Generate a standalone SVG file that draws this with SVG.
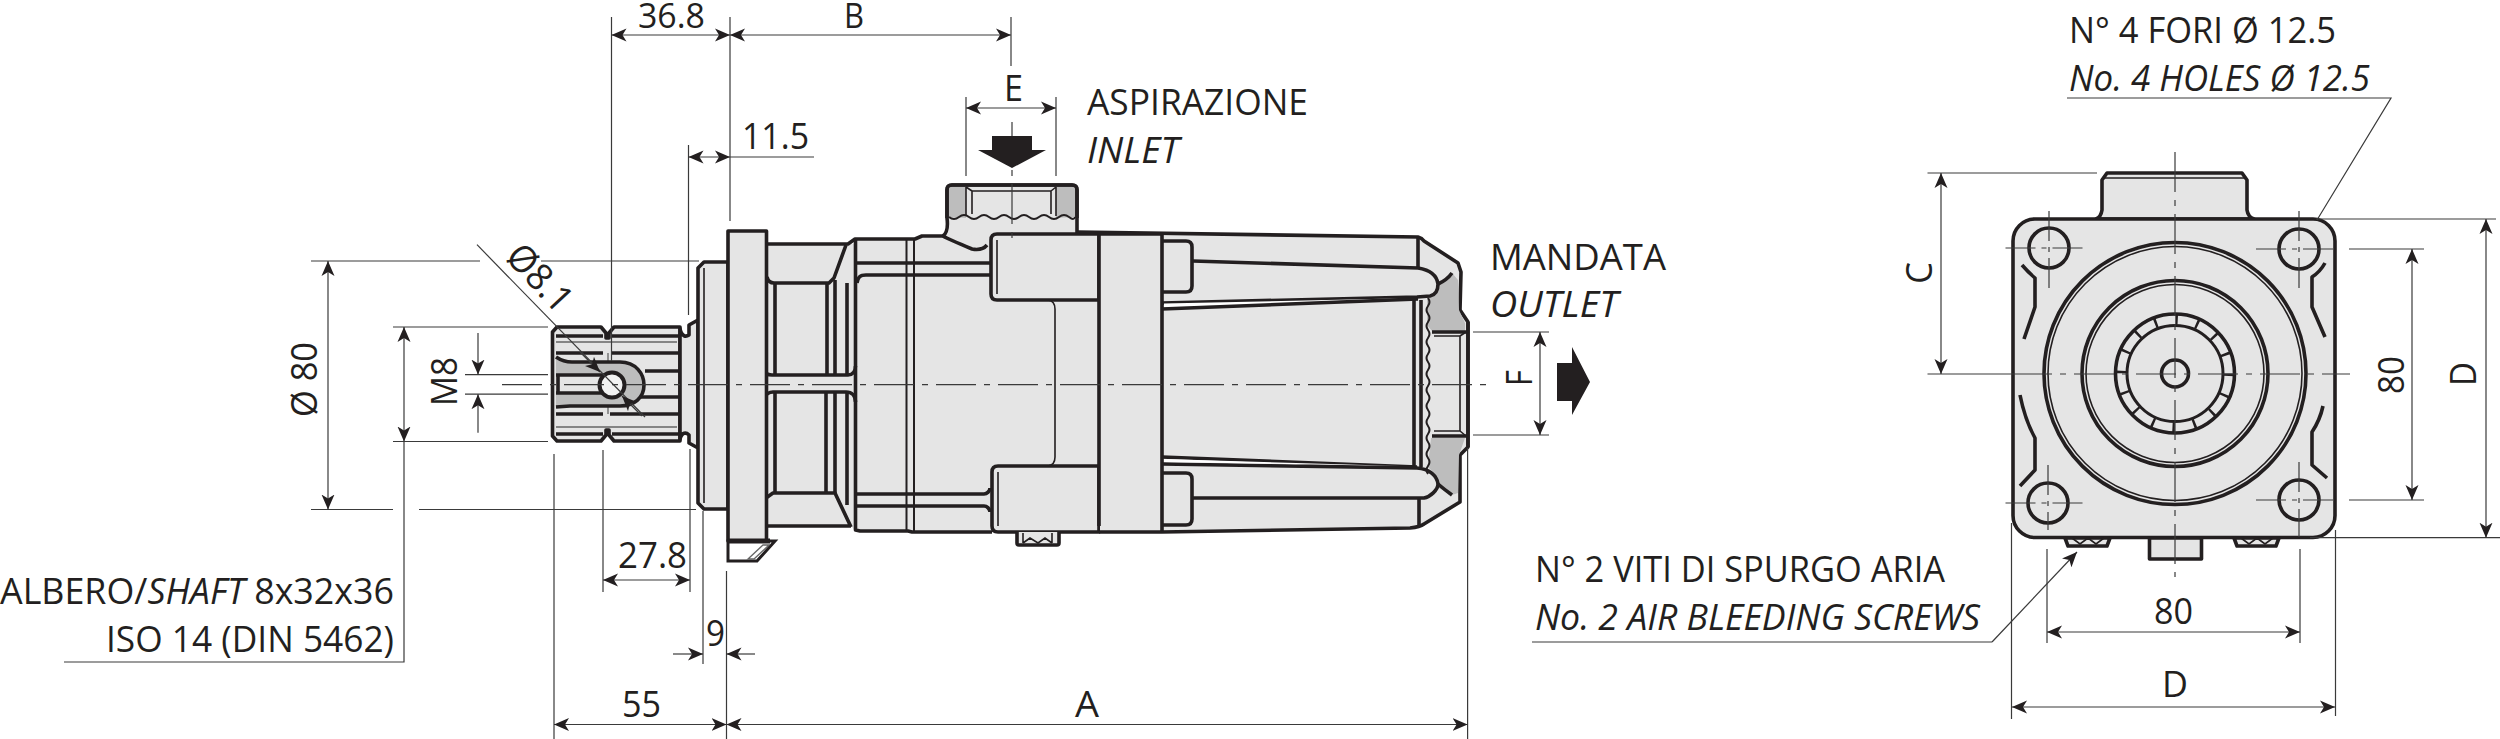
<svg xmlns="http://www.w3.org/2000/svg" width="2500" height="739" viewBox="0 0 2500 739">
<style>
text{font-family:"Open Sans","Noto Sans","Liberation Sans",sans-serif;font-size:37px;fill:#231f20}
.i{font-style:italic}
.top{font-size:34px}
.o{fill:#e5e5e5;stroke:#231f20;stroke-width:3.600;stroke-linejoin:round}
.f{fill:#e5e5e5;stroke:none}
.g{fill:#bdbdbd;stroke:none}
.h{fill:none;stroke:#231f20;stroke-width:3.600;stroke-linejoin:round}
.t{fill:none;stroke:#231f20;stroke-width:1.600}
.s{fill:none;stroke:#666;stroke-width:1.300}
.d{fill:none;stroke:#3a3a3a;stroke-width:1.200}
.b{marker-start:url(#ar);marker-end:url(#ar)}
.e{marker-end:url(#ar)}
.c{fill:none;stroke:#3a3a3a;stroke-width:1.200;stroke-dasharray:40 8 6 8}
</style>
<defs>
<marker id="ar" markerUnits="userSpaceOnUse" markerWidth="18" markerHeight="14" refX="15" refY="7" orient="auto-start-reverse"><path d="M15,7 L0,0.5 L4,7 L0,13.500 Z" fill="#231f20"/></marker>
</defs>
<rect width="2500" height="739" fill="#fff"/>

<g id="side-view">
<g id="shaft">
<path class="o" d="M557,327 H601 L606,333 V338 H609 V333 L614,327 H680 V441 H614 L609,435 V430 H606 V435 L601,441 H557 L552.500,436 V332 Z"/>
<path class="h" d="M556,336 H603 M612,336 H680 M556,353 H603 M612,353 H680 M645,371 H680 M641,397 H680 M556,414 H603 M610,414 H680 M556,434 H603 M612,434 H680"/>
<path class="s" d="M556,342 H677 M556,427 H677 M608,353 V362 M608,406 V414"/>
<path class="g" d="M556,357 C562,361 566,362 572,362 H620 C636,362 644,374 644,385 C644,398 634,406 620,406 H570 L556,407 Z"/>
<path class="h" d="M556,357 C562,361 566,362 572,362 H620 C636,362 644,374 644,385 C644,398 634,406 620,406 H570 L556,407"/>
<rect class="f" x="556" y="376" width="48" height="17"/>
<path class="h" d="M556,375 H604 M556,393 H604 M558,376 V392"/>
<circle cx="612" cy="385" r="12.500" fill="#f2f2f2" stroke="#231f20" stroke-width="4"/>
</g>
<g id="neck-pilot">
<path class="o" d="M680,329 C682,337 686,337 689,335 V325 L698,320 V448 L689,443 V435 C686,432 682,432 680,439 Z"/>
<path class="o" d="M728,262 H704 L698,268 V503 L704,509 H728 Z"/>
<path class="t" d="M704,268 V503"/>
</g>
<g id="body">
<path class="f" d="M766,244 H855 V239 H915 L922,236 H947 V233 L1077,232 L1418,237 L1458,263 L1461,272 L1460,310 L1468,322 V447 L1460,455 V502 L1420,525 L1410,528 L1162,532 H992 L910,531 H855 L851,526 H766 Z"/>
<path class="h" d="M767,244 H848 L855,239 H915 L922,236 H943"/>
<path class="h" d="M767,277 C768,281 770,283 774,283 H829 L834,278 L846,245"/>
<path class="h" d="M775,283 V375 M827,283 V375 M835,280 V375 M847,283 V375 M775,392 V493 M826,392 V493 M835,392 V493 M847,392 V505"/>
<path class="h" d="M763,369 C764,373 767,375 772,375 H848 C852,375 855.500,372 855.500,366"/>
<path class="h" d="M764,398 C766,394 769,392 773,392 H846 C852,392 855.500,396 855.500,402"/>
<path class="h" d="M766,498 L773,493 H835 L851,527 M766,526 H851"/>
<path class="h" d="M855.500,239 V530 L860,531 H908 L912,532 H992"/>
<path class="h" style="stroke-width:2" d="M906.500,239 V531 M914,239 V531"/>
<path class="h" d="M857,263 H990 M857,283 C858,277 860,275 866,275 H990 M855,494 H984 C987,494 990,491 990,488 M855,506 H984 C987,506 990,509 990,512"/>
</g>
<g id="inlet-boss">
<path class="o" d="M943,236 C947,233 948,226 947,218 V190 Q947,185 952,185 H1072 Q1077,185 1077,190 V233"/>
<path class="g" d="M949,187 H966 V218 L949,217 Z M1056,187 H1075 V217 L1056,218 Z"/>
<path class="h" d="M947,218 V190 Q947,185 952,185 H1072 Q1077,185 1077,190 V218"/>
<path class="t" style="stroke-width:2" d="M949,217 q5,4 10,0 t10,0 t10,0 t10,0 t10,0 t10,0 t10,0 t10,0 t10,0 t10,0 t10,0 t10,0 t6,0"/>
<path class="t" d="M966,187 V216 M1056,187 V216 M972,191 V214 M1051,191 V214 M972,191 H1051 M966,187 L972,191 M1056,187 L1051,191"/>
<path class="h" d="M943,236 C948,239 960,244 972,249 Q982,251 987,245"/>
</g>
<g id="blocks">
<path class="o" d="M997,234 H1099 V300 H997 Q991,300 991,294 V240 Q991,234 997,234 Z"/>
<path class="o" d="M998,466 H1099 V532 H998 Q992,532 992,526 V472 Q992,466 998,466 Z"/>
<path class="f" d="M1100,234 H1161 V531 H1100 Z"/>
<path class="h" d="M1099,234 V526 M1162,234 V532 M1099,234 H1162 M1099,532 H1162"/>
<path class="t" d="M997,240 V294 M998,472 V526"/>
<path class="t" d="M1048,300 Q1055,301 1055,309 V457 Q1055,465 1048,466"/>
<path class="h" d="M1162,241 H1186 Q1192,241 1192,247 V286 Q1192,292 1186,292 H1162 M1162,473 H1186 Q1192,473 1192,479 V519 Q1192,525 1186,525 H1162"/>
</g>
<g id="cowl">
<path class="h" d="M1077,232 L1418,237 Q1422,238 1424,241 L1458,263 L1461,272 L1460,310 L1468,322 V447 L1460,455 V502 L1424,524 Q1420,527 1410,528 L1162,532"/>
<path class="h" d="M1418,238 V268 M1419,498 V527"/>
<path class="g" d="M1438,283 Q1447,280 1452,273 L1458,280 L1459,310 L1465,323 V331 H1432 L1427,325 V298 L1433,296 Q1439,292 1438,283 Z"/>
<path class="g" d="M1428,467 L1431,438 H1465 L1459,455 L1458,493 L1452,495 L1437,487 L1438,477 Z"/>
<path class="h" d="M1414,300 V467 M1421,300 V467"/>
<path class="t" style="stroke-width:2" d="M1428,298 q3,4 0,8 t0,8 t0,8 t0,8 t0,8 t0,8 t0,8 t0,8 t0,8 t0,8 t0,8 t0,8 t0,8 t0,8 t0,8 t0,8 t0,8 t0,8 t0,8 t0,8 t0,8 t0,8"/>
<rect class="f" x="1433" y="333" width="33" height="102"/>
<path class="h" d="M1432,332 H1467 M1432,436 H1467 M1468,322 V447"/>
<path class="t" d="M1434,336 H1460 M1434,431 H1460 M1460,336 V431 M1460,336 L1466,332 M1460,431 L1466,436"/>
<path class="h" d="M1193,261 L1418,268 C1430,270 1437,276 1438,284 C1438,291 1435,295 1430,296 L1417,297 L1162,303"/>
<path fill="#fff" d="M1164,303.500 L1417,298 L1164,307.500 Z"/>
<path class="h" d="M1162,309 L1418,299"/>
<path class="h" d="M1162,457 L1417,467 M1162,464 L1417,468 C1430,469 1437,476 1438,484 C1438,490 1430,497 1424,498 H1193"/>
<path fill="#fff" d="M1164,459 L1400,466 L1164,462 Z"/>
<path class="h" d="M1438,284 Q1447,280 1452,273 M1438,484 Q1445,490 1452,495"/>
</g>
<g id="flange">
<rect class="o" x="728" y="231" width="38.500" height="310"/>
<path fill="#fff" stroke="#231f20" stroke-width="3" d="M728,541 H775 L757,561 H728 Z"/>
<path class="h" style="stroke-width:5" d="M728,541 H770"/>
<path class="s" fill="#e5e5e5" d="M748,559 L763,545 H769 L754,559 Z"/>
</g>
<g id="bleed-screw">
<path class="o" d="M1017,532 V543 Q1017,545 1019,545 H1057 Q1059,545 1059,543 V532"/>
<path class="t" d="M1023,533 V543 M1052,533 V543 M1023,543 L1030,538 L1038,543 L1045,538 L1052,543"/>
</g>
</g>

<g id="rear-view">
<path class="o" d="M2096,219 Q2101,217 2102,210 V180 L2107,173 H2242 L2247,180 V210 Q2248,217 2254,219 Z"/>
<path class="t" d="M2103,178 H2246"/>
<rect class="o" x="2013" y="219" width="322" height="318.500" rx="22" ry="22"/>
<g id="bleed-rear">
<path class="o" d="M2065,538 L2068,546 H2107 L2110,538 Z M2234,538 L2237,546 H2276 L2279,538 Z"/>
<path class="t" d="M2072,538 L2080,544 L2088,538 L2096,544 L2104,538 M2241,538 L2249,544 L2257,538 L2265,544 L2273,538"/>
<rect class="o" x="2149.500" y="538" width="52" height="21"/>
</g>
<path class="h" d="M2022,265 Q2028,272 2035,278 V307 L2024,339 M2020,395 Q2025,420 2035,438 V470 L2020,486 M2325,263 Q2320,272 2312,277 V307 L2325,337 M2323,406 Q2320,420 2312,432 V465 L2327,478"/>
<circle class="o" cx="2175" cy="373.500" r="131"/>
<circle class="t" cx="2175" cy="373.500" r="127"/>
<circle class="o" cx="2175" cy="373.500" r="93"/>
<circle class="t" cx="2175" cy="373.500" r="89"/>
<circle class="o" cx="2175" cy="373.500" r="59.500"/>
<circle cx="2175" cy="373.500" r="54" fill="none" stroke="#231f20" stroke-width="10" stroke-dasharray="2.500 18.700"/>
<circle class="h" style="stroke-width:3" cx="2175" cy="373.500" r="48"/>
<circle class="o" cx="2175" cy="373.500" r="13.500"/>
<circle class="o" cx="2049" cy="248" r="20"/>
<circle class="o" cx="2299" cy="249" r="20"/>
<circle class="o" cx="2048" cy="503" r="20"/>
<circle class="o" cx="2299" cy="500" r="20"/>
</g>

<g id="connectors">
<path class="c" d="M502,384.600 H1489"/>
<path class="c" d="M1012,122 V239"/>
<path class="c" d="M2012,374 H2350 M2175,152 V577"/>
<path class="c" style="stroke-dasharray:30 6 5 6" d="M2005.500,248 H2088 M2049,211 V293 M2256,249 H2339 M2299,211 V293 M2005.500,503 H2088 M2048,465 V530 M2256,500 H2339 M2299,462 V537"/>
<path class="d" d="M311,261 H480 M541,261 H699 M311,509.500 H393 M419,509.500 H696"/>
<path class="d b" d="M328,261 V509.500"/>
<path class="d" d="M393,327 H548 M393,441.500 H548"/>
<path class="d b" d="M404,327 V441.500"/>
<path class="d" d="M404,441.500 V662 H64"/>
<path class="d" d="M465,374.600 H548 M465,394.200 H548"/>
<path class="d e" d="M478,333 V374.600"/>
<path class="d e" d="M478,432.700 V394.200"/>
<path class="d" d="M477,244.700 L645,417"/>
<path class="d e" d="M580,352 L600,372"/>
<path class="d e" d="M642,416 L622,396"/>
<path class="d" d="M611.500,17 V361 M554,454 V739 M603,450 V592 M690,449 V592 M688.500,145 V315 M730,17 V221 M703,511 V664 M726.500,571 V739 M1467.600,448 V739"/>
<path class="d b" d="M611.500,35 H730"/>
<path class="d b" d="M730,35 H1011"/>
<path class="d" d="M1011,17 V66 M966,97 V176 M1056,97 V176"/>
<path class="d b" d="M966,108 H1056"/>
<path class="d b" d="M688.500,157 H730"/>
<path class="d" d="M730,157 H814"/>
<path class="d b" d="M603,580 H690"/>
<path class="d e" d="M673,654 H703"/>
<path class="d e" d="M755,654 H726.500"/>
<path class="d b" d="M554,724.500 H726.500"/>
<path class="d b" d="M726.500,724.500 H1467.600"/>
<path class="d" d="M1473,332 H1549 M1473,435 H1549"/>
<path class="d b" d="M1540,332 V435"/>
<path class="d" d="M1927.500,173 H2097 M1927.500,374 H2012"/>
<path class="d b" d="M1941,173 V374"/>
<path class="d" d="M2349,249 H2424 M2349,500 H2424"/>
<path class="d b" d="M2412,249 V500"/>
<path class="d" d="M2316,219 H2496 M2310,537.700 H2500"/>
<path class="d b" d="M2486,219 V537.700"/>
<path class="d" d="M2047,549 V643 M2300,549 V643 M2011.500,523 V719 M2335.500,530 V716"/>
<path class="d b" d="M2047,632 H2300"/>
<path class="d b" d="M2012,707 H2335"/>
<path class="d" d="M2067,98 H2391 L2317,220"/>
<path class="d" d="M1532,642 H1992"/>
<path class="d e" d="M1992,642 L2077,552"/>
<path fill="#231f20" d="M992,136 H1032 V150 H1046 L1012,168 L978,150 H992 Z"/>
<path fill="#231f20" d="M1557,363 H1572 V347 L1590,382 L1572,415 V401 H1557 Z"/>
</g>

<g id="labels">
<text class="top" x="638" y="28" textLength="67" lengthAdjust="spacingAndGlyphs">36.8</text>
<text class="top" x="844" y="28" textLength="20" lengthAdjust="spacingAndGlyphs">B</text>
<text x="1004" y="101" textLength="19" lengthAdjust="spacingAndGlyphs">E</text>
<text x="1087" y="115" textLength="221" lengthAdjust="spacingAndGlyphs">ASPIRAZIONE</text>
<text class="i" x="1087" y="163" textLength="92" lengthAdjust="spacingAndGlyphs">INLET</text>
<text x="742" y="149" textLength="67" lengthAdjust="spacingAndGlyphs">11.5</text>
<text x="1490" y="270" textLength="176" lengthAdjust="spacingAndGlyphs">MANDATA</text>
<text class="i" x="1490" y="317" textLength="128" lengthAdjust="spacingAndGlyphs">OUTLET</text>
<text transform="translate(1532,386) rotate(-90)" textLength="16" lengthAdjust="spacingAndGlyphs">F</text>
<text transform="translate(317,417) rotate(-90)" textLength="75" lengthAdjust="spacingAndGlyphs">Ø 80</text>
<text transform="translate(457,406) rotate(-90)" textLength="49" lengthAdjust="spacingAndGlyphs">M8</text>
<text transform="translate(504,258) rotate(47)" textLength="78" lengthAdjust="spacingAndGlyphs">Ø8.1</text>
<text x="618" y="568" textLength="69" lengthAdjust="spacingAndGlyphs">27.8</text>
<text x="0" y="604" textLength="394" lengthAdjust="spacingAndGlyphs">ALBERO/<tspan class="i">SHAFT</tspan> 8x32x36</text>
<text x="106" y="652" textLength="288" lengthAdjust="spacingAndGlyphs">ISO 14 (DIN 5462)</text>
<text x="706" y="646" textLength="19" lengthAdjust="spacingAndGlyphs">9</text>
<text x="622" y="717" textLength="39" lengthAdjust="spacingAndGlyphs">55</text>
<text x="1075" y="717" textLength="24" lengthAdjust="spacingAndGlyphs">A</text>
<text x="2069" y="43" textLength="267" lengthAdjust="spacingAndGlyphs">N° 4 FORI Ø 12.5</text>
<text class="i" x="2069" y="91" textLength="301" lengthAdjust="spacingAndGlyphs">No. 4 HOLES Ø 12.5</text>
<text transform="translate(1932,284) rotate(-90)" textLength="22" lengthAdjust="spacingAndGlyphs">C</text>
<text transform="translate(2403.500,394) rotate(-90)" textLength="38" lengthAdjust="spacingAndGlyphs">80</text>
<text transform="translate(2476,386) rotate(-90)" textLength="24" lengthAdjust="spacingAndGlyphs">D</text>
<text x="1535" y="582" textLength="410" lengthAdjust="spacingAndGlyphs">N° 2 VITI DI SPURGO ARIA</text>
<text class="i" x="1535" y="630" textLength="445" lengthAdjust="spacingAndGlyphs">No. 2 AIR BLEEDING SCREWS</text>
<text x="2154" y="624" textLength="39" lengthAdjust="spacingAndGlyphs">80</text>
<text x="2162" y="697" textLength="26" lengthAdjust="spacingAndGlyphs">D</text>
</g>
</svg>
